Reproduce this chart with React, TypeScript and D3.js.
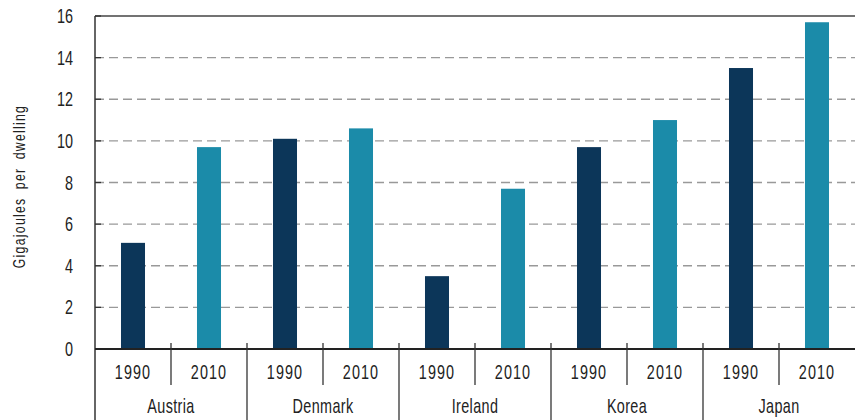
import React from "react";
import { scaleBand, scaleLinear } from "d3";

// data
const countries = ["Austria", "Denmark", "Ireland", "Korea", "Japan"];
const years = ["1990", "2010"];
const values1990 = [5.1, 10.1, 3.5, 9.7, 13.5];
const values2010 = [9.7, 10.6, 7.7, 11.0, 15.7];
const yTicks = [0, 2, 4, 6, 8, 10, 12, 14, 16];

const colours = { "1990": "#0c3659", "2010": "#1b8ba9" };
const font = "'Liberation Sans', Arial, sans-serif";
const squeeze = 0.72; // the original uses a condensed face

const W = 855;
const H = 420;
const margin = { top: 16, right: 0, bottom: 71, left: 95 };

// text squeezed horizontally to imitate the condensed font
const Narrow = ({ x, y, anchor = "middle", size = 20, rotate = 0, children, ...rest }: any) => (
  <g transform={`translate(${x},${y}) rotate(${rotate}) scale(${squeeze},1)`}>
    <text
      textAnchor={anchor}
      dy="0.35em"
      fontFamily={font}
      fontSize={size}
      fill="#222"
      {...rest}
    >
      {children}
    </text>
  </g>
);

const App = () => {
  const x = scaleBand<string>()
    .domain(countries)
    .range([margin.left, W - margin.right]);
  const xYear = scaleBand<string>()
    .domain(years)
    .range([0, x.bandwidth()])
    .paddingInner(0.684)
    .paddingOuter(0.342);
  const y = scaleLinear().domain([0, 16]).range([H - margin.bottom, margin.top]);
  const y0 = y(0);

  const series = { "1990": values1990, "2010": values2010 };

  return (
    <svg
      width={W}
      height={H}
      style={{ position: "absolute", left: 0, top: 0, background: "#fff" }}
    >
      {/* gridlines */}
      {yTicks.slice(1, -1).map((t) => (
        <line
          key={t}
          x1={margin.left}
          x2={W}
          y1={y(t)}
          y2={y(t)}
          stroke="#999"
          strokeWidth={1.3}
          strokeDasharray="9,5"
        />
      ))}
      {/* top border */}
      <line x1={margin.left} x2={W} y1={y(16)} y2={y(16)} stroke="#444" strokeWidth={1.5} />

      {/* bars */}
      {countries.map((c, i) =>
        years.map((yr) => (
          <rect
            key={c + yr}
            x={(x(c) as number) + (xYear(yr) as number)}
            y={y(series[yr][i])}
            width={xYear.bandwidth()}
            height={y0 - y(series[yr][i])}
            fill={colours[yr]}
          />
        ))
      )}

      {/* y ticks */}
      {yTicks.map((t) => (
        <g key={t}>
          <line x1={margin.left} x2={margin.left + 6} y1={y(t)} y2={y(t)} stroke="#333" strokeWidth={1.3} />
          <Narrow x={73} y={y(t)} anchor="end" size={20}>
            {t}
          </Narrow>
        </g>
      ))}

      {/* axes */}
      <line x1={margin.left} x2={margin.left} y1={margin.top} y2={H} stroke="#333" strokeWidth={1.5} />
      <line x1={margin.left} x2={W} y1={y0} y2={y0} stroke="#222" strokeWidth={2} />

      {/* bottom category separators and labels */}
      {countries.map((c, i) => {
        const gx = x(c) as number;
        return (
          <g key={c}>
            {i > 0 && (
              <line x1={gx} x2={gx} y1={y0 - 6} y2={H} stroke="#333" strokeWidth={1.3} />
            )}
            <line
              x1={gx + x.bandwidth() / 2}
              x2={gx + x.bandwidth() / 2}
              y1={y0 - 6}
              y2={385}
              stroke="#333"
              strokeWidth={1.3}
            />
            {years.map((yr) => (
              <Narrow
                key={yr}
                x={gx + (xYear(yr) as number) + xYear.bandwidth() / 2}
                y={372}
                size={20}
                letterSpacing={1.5}
              >
                {yr}
              </Narrow>
            ))}
            <Narrow x={gx + x.bandwidth() / 2} y={406} size={20} letterSpacing={0.5}>
              {c}
            </Narrow>
          </g>
        );
      })}

      {/* y axis title */}
      <Narrow
        x={19}
        y={(margin.top + y0) / 2 + 4}
        rotate={-90}
        size={17}
        letterSpacing={1.8}
        wordSpacing={5}
      >
        Gigajoules per dwelling
      </Narrow>
    </svg>
  );
};

export default App;
